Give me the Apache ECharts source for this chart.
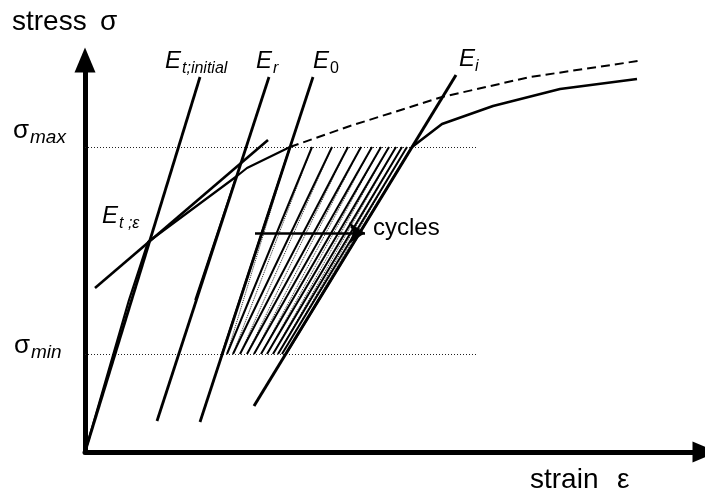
<!DOCTYPE html>
<html>
<head>
<meta charset="utf-8">
<script src="https://cdn.jsdelivr.net/npm/echarts/dist/echarts.min.js"></script>
<style>
  html, body { margin: 0; padding: 0; background: #fff; }
  #chart { width: 705px; height: 495px; }
</style>
</head>
<body>
<div id="chart"></div>
<script>
// Schematic stress–strain diagram under cyclic loading.
// Strain (x) and stress (y) are in drawing units, origin at the axes corner.

const sigmaMax = 305;          // upper stress level of the cycles
const sigmaMin = 98;           // lower stress level of the cycles
const levelLineEnd = 391;      // strain where the dotted level lines stop

// monotonic curve up to the first peak
const initialCurve = [[0, 0], [44, 152], [63, 210], [152, 276], [162, 284], [205, 305]];
// short reloading branch next to E_r
const reloadBranch = [[110, 152], [151, 275]];
// monotonic envelope beyond sigma_max (dashed)
const envelopeCurve = [[205, 305], [265, 326], [357, 355], [445, 375], [553, 391]];
// curve after the cycles
const afterCycles = [[327, 305], [357, 328], [408, 346], [475, 363], [552, 373]];

// modulus lines
const lineEtInitial = [[0, 0], [115, 375]];
const lineEr = [[72, 31], [184, 375]];
const lineE0 = [[115, 30], [228, 375]];
const lineEi = [[169, 46], [371, 377]];
const lineEtEps = [[10, 164], [183, 312]];

// strain at each cycle's peak (sigma_max) and trough (sigma_min)
const cyclePeaks = [205, 227, 247, 263, 276, 287, 296, 304, 311, 317, 322, 327];
const cycleTroughs = [137, 142, 148, 155, 162, 169, 176, 182, 188, 193, 197, 201];

// "cycles" arrow
const cyclesArrow = [[170, 219], [280, 219]];

const INK = '#000';
const FONT = '"Liberation Sans", Arial, Helvetica, sans-serif';

const loading = cyclePeaks.map((p, i) => ({ coords: [[cycleTroughs[i], sigmaMin], [p, sigmaMax]] }));
const unloading = cyclePeaks.slice(0, -1).map((p, i) => ({ coords: [[p, sigmaMax], [cycleTroughs[i + 1], sigmaMin]] }));

function path(data, width, type, z) {
  return {
    type: 'line', data, symbol: 'none', silent: true, animation: false, z: z || 3,
    lineStyle: { color: INK, width, type: type || 'solid', cap: 'butt' }
  };
}
function segments(data, width, type, color, z) {
  return {
    type: 'lines', coordinateSystem: 'cartesian2d', data, silent: true, animation: false, z: z || 2,
    lineStyle: { color: color || INK, width, type: type || 'solid', opacity: 1, curveness: 0 }
  };
}

// text pieces: [string, left x, baseline y, size, italic]
const labels = [
  ['stress', 12, 32, 28, false], ['σ', 100, 32, 28, false],
  ['strain', 530, 490, 28, false], ['ε', 617, 490, 28, false],
  ['σ', 13, 140, 26, false], ['max', 30, 144, 19, true],
  ['σ', 14, 355, 26, false], ['min', 31, 359, 19, true],
  ['E', 165, 70, 24, true], ['t;initial', 182, 74, 16, true],
  ['E', 256, 70, 24, true], ['r', 273, 74, 16, true],
  ['E', 313, 70, 24, true], ['0', 330, 74, 16, false],
  ['E', 459, 68, 24, true], ['i', 475, 72, 16, true],
  ['E', 102, 225, 24, true], ['t ;ε', 119, 229, 16, true],
  ['cycles', 373, 237, 24, false]
];

const chart = echarts.init(document.getElementById('chart'), null, { renderer: 'canvas' });
chart.setOption({
  animation: false,
  backgroundColor: '#fff',
  grid: { left: 85, right: 0, top: 60, bottom: 43 },
  xAxis: {
    type: 'value', min: 0, max: 620,
    axisLine: { show: true, onZero: false, symbol: ['none', 'triangle'], symbolSize: [21, 25],
      lineStyle: { color: INK, width: 5 } },
    axisTick: { show: false }, axisLabel: { show: false }, splitLine: { show: false }
  },
  yAxis: {
    type: 'value', min: 0, max: 392,
    axisLine: { show: true, onZero: false, symbol: ['none', 'triangle'], symbolSize: [21, 25],
      lineStyle: { color: INK, width: 5 } },
    axisTick: { show: false }, axisLabel: { show: false }, splitLine: { show: false }
  },
  series: [
    segments([
      { coords: [[0, sigmaMax], [levelLineEnd, sigmaMax]] },
      { coords: [[0, sigmaMin], [levelLineEnd, sigmaMin]] }
    ], 1, [1, 2], '#222', 1),
    segments(unloading, 1, [1, 1], '#222', 2),
    segments(loading, 2, 'solid', INK, 2),
    path(initialCurve, 2.2),
    path(reloadBranch, 1.6),
    path(envelopeCurve, 2, [9, 5]),
    path(afterCycles, 2.6),
    path(lineEtInitial, 2.8),
    path(lineEr, 2.8),
    path(lineE0, 2.8),
    path(lineEi, 3),
    path(lineEtEps, 2.6),
    {
      type: 'lines', coordinateSystem: 'cartesian2d', silent: true, animation: false, z: 4,
      symbol: ['none', 'arrow'], symbolSize: [12, 16],
      lineStyle: { color: INK, width: 2.5, opacity: 1 },
      data: [{ coords: cyclesArrow }]
    }
  ],
  graphic: labels.map(([t, x, base, size, italic]) => ({
    type: 'text', x, y: base - 0.35 * size, silent: true,
    style: { text: t, fill: INK, fontSize: size, fontStyle: italic ? 'italic' : 'normal',
      fontFamily: FONT, align: 'left', verticalAlign: 'middle' }
  }))
});
</script>
</body>
</html>
